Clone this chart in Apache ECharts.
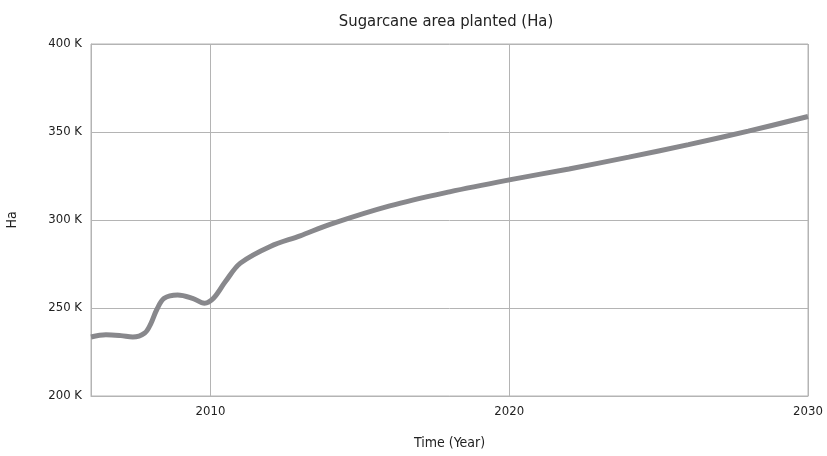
<!DOCTYPE html>
<html lang="en">
<head>
  <meta charset="UTF-8">
  <title>Sugarcane area planted</title>
  <style>
html, body {
  margin: 0;
  padding: 0;
  width: 100%;
  height: 100%;
  background: #fff;
}

.main {
  width: 827px;
  height: 456px;
}
  </style>
</head>
<body>
<div class="main" id="main"></div>
<script src="https://cdn.jsdelivr.net/npm/echarts@6/dist/echarts.min.js"></script>
<script>
// years (x) and planted area in hectares (y)
var years = [2006, 2006.5, 2007, 2007.4, 2007.8, 2008, 2008.2, 2008.45, 2008.9, 2009.4, 2009.8, 2010.1,
  2010.5, 2011, 2012, 2013, 2014, 2016, 2018, 2020, 2022, 2024, 2026, 2028, 2030];
var area = [233500, 234800, 234300, 233500, 235800, 241000, 249000, 255500, 257400, 255500, 252700, 255500,
  265000, 275500, 285000, 291000, 297500, 308000, 316000, 322800, 329000, 335700, 342800, 350500, 358800];
var yearTicks = [2010, 2020, 2030];
var fontFam = "'DejaVu Sans Condensed', 'Roboto', sans-serif";

var chart = echarts.init(document.getElementById('main'));

var pts = [];
for (var i = 0; i < years.length; i++) {
  pts.push([years[i], area[i]]);
}

chart.setOption({
  animation: false,
  textStyle: { fontFamily: fontFam },
  title: {
    text: 'Sugarcane area planted (Ha)',
    left: 441,
    textAlign: 'center',
    top: 8,
    textStyle: { fontSize: 16.5, fontWeight: 'normal', color: '#222', fontFamily: fontFam }
  },
  grid: {
    left: 91, right: 19, top: 44, bottom: 60,
    outerBoundsMode: 'none',
    containLabel: false,
    show: true, borderColor: '#b4b4b4', borderWidth: 1
  },
  xAxis: {
    type: 'value',
    min: 2006, max: 2030,
    name: 'Time (Year)',
    nameLocation: 'middle',
    nameGap: 40,
    nameTextStyle: { fontSize: 14, color: '#222', fontFamily: fontFam },
    axisLine: { show: true, lineStyle: { color: '#b4b4b4' } },
    axisTick: { show: false, customValues: yearTicks },
    axisLabel: { customValues: yearTicks, fontSize: 13, color: '#222', margin: 9, fontFamily: fontFam,
      formatter: function (v) { return String(v); } },
    splitLine: { show: true, lineStyle: { color: '#b4b4b4', width: 1 } }
  },
  yAxis: {
    type: 'value',
    min: 200000, max: 400000, interval: 50000,
    name: 'Ha',
    nameLocation: 'middle',
    nameGap: 72,
    nameTextStyle: { fontSize: 14, color: '#222', fontFamily: fontFam },
    axisLine: { show: true, lineStyle: { color: '#b4b4b4' } },
    axisTick: { show: false },
    axisLabel: { fontSize: 13, color: '#222', margin: 9, fontFamily: fontFam,
      formatter: function (v) { return (v / 1000) + ' K'; } },
    splitLine: { show: true, lineStyle: { color: '#b4b4b4', width: 1 } }
  },
  series: [{
    type: 'line',
    data: pts,
    smooth: 0.35,
    showSymbol: false,
    lineStyle: { color: '#88888c', width: 5 }
  }]
});
</script>
</body>
</html>
